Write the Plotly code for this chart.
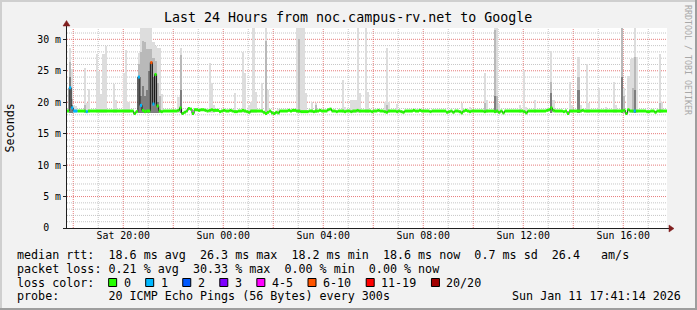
import plotly.graph_objects as go
from datetime import datetime, timedelta

# ---------------- data ----------------
start_time = "2026-01-10 17:45:00"
step_seconds = 300

# median RTT per 5-minute step (ms), 24 steps = 2 hours per row
median_ms = [
    18.6, 22.3, 19.1, 18.6, 18.6, 18.6, 18.6, 18.6, 18.6, 18.5, 18.6, 18.6, 18.6, 18.6, 18.6, 18.6, 18.6, 18.6, 18.6, 18.6, 18.6, 18.6, 18.6, 18.6,
    18.6, 18.6, 18.6, 18.6, 18.6, 18.6, 18.6, 18.6, 18.2, 18.5, 24.0, 19.5, 18.7, 18.5, 18.6, 18.6, 26.3, 19.7, 24.4, 19.4, 18.6, 18.5, 18.6, 18.6,
    18.6, 18.6, 18.6, 18.6, 18.6, 18.7, 19.1, 18.2, 18.4, 18.6, 19.0, 18.9, 18.2, 18.8, 18.8, 18.7, 18.8, 18.8, 18.7, 18.6, 18.7, 18.8, 18.7, 18.7,
    18.7, 18.5, 18.6, 18.7, 18.6, 18.6, 18.7, 18.6, 18.5, 18.5, 18.6, 18.6, 18.7, 18.6, 18.5, 18.4, 18.6, 18.6, 18.6, 18.6, 18.6, 18.6, 18.4, 18.2,
    18.4, 18.6, 18.3, 18.2, 18.4, 18.3, 18.6, 18.6, 18.6, 18.6, 18.7, 18.6, 18.7, 18.7, 18.6, 18.6, 18.5, 18.5, 18.5, 18.5, 18.6, 18.6, 18.5, 18.6,
    18.6, 18.7, 18.6, 18.6, 18.6, 18.8, 18.9, 18.6, 18.6, 18.5, 18.6, 18.6, 18.6, 18.5, 18.6, 18.6, 18.5, 18.6, 18.6, 18.7, 18.6, 18.6, 18.6, 18.6,
    18.6, 18.6, 18.5, 18.6, 18.6, 18.7, 18.6, 18.6, 18.5, 18.4, 18.6, 18.6, 18.6, 18.6, 18.5, 18.6, 18.5, 18.4, 18.6, 18.6, 18.6, 18.6, 18.7, 18.6,
    18.6, 18.7, 18.6, 18.6, 18.6, 18.6, 18.5, 18.6, 18.6, 18.6, 18.6, 18.6, 18.6, 18.6, 18.4, 18.5, 18.6, 18.4, 18.6, 18.6, 18.5, 18.3, 18.6, 18.7,
    18.6, 18.5, 18.6, 18.6, 18.6, 18.6, 18.6, 18.6, 18.5, 18.6, 18.6, 18.6, 18.6, 18.5, 18.6, 18.4, 18.6, 18.3, 18.6, 18.6, 18.6, 18.6, 18.6, 18.6,
    18.6, 18.6, 18.6, 18.5, 18.3, 18.6, 18.6, 18.6, 18.6, 18.6, 18.6, 18.6, 18.6, 18.6, 18.7, 18.8, 19.1, 18.7, 18.6, 18.6, 18.6, 18.6, 18.5, 18.6,
    18.2, 18.6, 18.6, 18.6, 18.6, 18.6, 18.6, 18.7, 18.6, 18.6, 18.6, 18.6, 18.6, 18.6, 18.6, 18.6, 18.6, 18.6, 18.6, 18.6, 18.6, 18.6, 18.6, 18.6,
    18.6, 18.6, 18.6, 18.7, 18.2, 18.8, 18.6, 18.6, 18.6, 18.6, 18.6, 18.6, 18.6, 18.6, 18.5, 18.5, 18.6, 18.6, 18.4, 18.6, 18.6, 18.6, 18.6, 18.6,
]

# steps with packet loss (index of step, number of lost pings out of 20)
loss_steps = [1, 2, 3, 4, 9, 34, 35, 40, 41, 272]
loss_counts = [1, 1, 1, 1, 1, 1, 1, 7, 1, 1]

# smoke (ping spread) at steps where it rises above the median band
smoke_floor_ms = 18.3
smoke_steps = [1, 2, 3, 4, 8, 9, 10, 14, 15, 16, 17, 18, 22, 23, 27, 28, 29,
               34, 35, 36, 37, 38, 39, 40, 41, 42, 43, 44, 45, 53, 54, 68, 69, 70,
               80, 84, 85, 87, 88, 89, 90, 93, 95, 96, 101, 110, 111, 112, 113, 114,
               117, 119, 132, 133, 136, 137, 138, 139, 140, 143, 144, 152, 153, 154, 158,
               189, 193, 200, 201, 205, 206, 207, 217, 219, 220, 224, 232, 233, 241, 242,
               245, 246, 249, 250, 255, 258, 262, 263, 266, 267, 269, 270, 271, 272, 273,
               284, 285]
smoke_max = [28.6, 25.3, 19.6, 19.4, 25.4, 19.8, 22.1, 27.6, 25.0, 21.3, 27.6, 29.0, 22.9, 20.3, 24.7, 28.3, 20.0,
             27.9, 31.8, 31.8, 31.8, 31.8, 31.8, 31.8, 29.5, 29.0, 28.7, 28.7, 21.3, 20.8, 28.7, 26.2, 23.0, 19.5,
             21.5, 28.0, 24.6, 19.5, 20.0, 31.8, 21.7, 23.1, 31.8, 21.9, 19.0, 31.8, 31.8, 31.8, 31.8, 21.4,
             20.0, 19.8, 23.5, 19.3, 20.3, 20.3, 20.3, 31.8, 21.5, 31.8, 21.6, 20.0, 28.7, 20.0, 19.7,
             19.8, 19.3, 24.7, 20.3, 31.8, 31.8, 19.7, 19.5, 25.2, 19.3, 20.3, 28.2, 20.3, 23.2, 19.5,
             27.2, 19.6, 26.1, 19.9, 22.3, 19.2, 23.2, 19.6, 31.8, 22.3, 24.2, 26.8, 27.0, 31.8, 27.2,
             27.6, 20.0]
smoke_mid = [26.4, 20.5, None, None, 19.5, None, None, None, None, None, None, None, None, None, None, None, None,
             26.0, 28.0, 29.7, 29.5, 28.5, 28.4, 28.4, 27.0, 26.5, 23.0, 21.0, None, None, 27.5, None, None, None,
             None, None, None, None, None, None, None, None, 29.8, None, None, None, 30.0, None, None, None,
             None, 19.5, None, None, None, None, None, None, None, None, None, None, 19.5, None, None,
             None, None, 19.8, None, 31.5, 21.0, None, None, None, None, None, 23.2, None, None, None,
             24.0, None, None, None, None, None, None, None, 31.8, 21.0, None, None, 22.2, 27.2, None,
             19.8, None]
smoke_dark = [24.0, 19.5, None, None, None, None, None, None, None, None, None, None, None, None, None, None, None,
              24.0, 21.0, 22.5, 21.0, 22.0, 25.0, 26.3, 24.0, 24.4, 20.0, None, None, None, 22.0, None, None, None,
              None, None, None, None, None, None, None, None, None, None, None, None, None, None, None, None,
              None, None, None, None, None, None, None, None, None, None, None, None, None, None, None,
              None, None, None, None, 21.0, None, None, None, None, None, None, 21.4, None, None, None,
              22.0, None, None, None, None, None, None, None, 24.0, None, None, None, None, 22.0, None,
              None, None]

x_tick_times = ["2026-01-10 20:00", "2026-01-11 00:00", "2026-01-11 04:00",
                "2026-01-11 08:00", "2026-01-11 12:00", "2026-01-11 16:00"]
x_tick_labels = ["Sat 20:00", "Sun 00:00", "Sun 04:00", "Sun 08:00", "Sun 12:00", "Sun 16:00"]
y_tick_values = [0, 5, 10, 15, 20, 25, 30]
y_tick_labels = ["0  ", "5 m", "10 m", "15 m", "20 m", "25 m", "30 m"]
grid_first_hour = "2026-01-10 18:00"   # first vertical grid line (major every 2 h, minor every 1 h)

loss_labels = ["0", "1", "2", "3", "4-5", "6-10", "11-19", "20/20"]
loss_limits = [0, 1, 2, 3, 5, 10, 19, 20]
loss_colors = ["#26ff00", "#00b8ff", "#0059ff", "#7e00ff", "#ff00ff", "#ff5500", "#ff0000", "#a10000"]

title_text = "Last 24 Hours from noc.campus-rv.net to Google"
line_rtt = "median rtt:  18.6 ms avg  26.3 ms max  18.2 ms min  18.6 ms now  0.7 ms sd  26.4   am/s"
line_loss = "packet loss: 0.21 % avg  30.33 % max  0.00 % min  0.00 % now"
line_color = "loss color:"
line_probe = "probe:       20 ICMP Echo Pings (56 Bytes) every 300s"
line_date = "Sun Jan 11 17:41:14 2026"
watermark = "RRDTOOL / TOBI OETIKER"

# ---------------- build ----------------
MONO = "DejaVu Sans Mono"
W, H = 697, 310
PL, PR, PT, PB = 67, 667, 28, 228
Y_MAX = 31.8


def px(x):
    return (x - PL) / (PR - PL)


def py(y):
    return (PB - y) / (PB - PT)


def nb(s):
    return s.replace(" ", "\u00a0")


t0 = datetime.fromisoformat(start_time)
n = len(median_ms)
edges = [t0 + timedelta(seconds=step_seconds * i) for i in range(n + 1)]
centers = [t0 + timedelta(seconds=step_seconds * (i + 0.5)) for i in range(n)]

loss_map = dict(zip(loss_steps, loss_counts))


def bucket(c):
    for i, lim in enumerate(loss_limits):
        if c <= lim:
            return i
    return len(loss_limits) - 1


step_bucket = [bucket(loss_map.get(k, 0)) for k in range(n)]

fig = go.Figure()

# smoke layers
for vals, col in [(smoke_max, "#dddddd"), (smoke_mid, "#b9b9b9"), (smoke_dark, "#7e7e7e")]:
    xs, bs, hs = [], [], []
    for k, v in zip(smoke_steps, vals):
        if v is None:
            continue
        xs.append(centers[k])
        bs.append(smoke_floor_ms)
        hs.append(v - smoke_floor_ms)
    fig.add_trace(go.Bar(x=xs, y=hs, base=bs, width=step_seconds * 1000,
                         marker=dict(color=col, line=dict(width=0)),
                         hoverinfo="skip", showlegend=False))

# thin black median line (visible at the step transitions)
fig.add_trace(go.Scatter(x=edges, y=median_ms + [median_ms[-1]], mode="lines",
                         line=dict(shape="hv", color="#1a1a1a", width=1),
                         hoverinfo="skip", showlegend=False))

# coloured median band by loss
for bi, col in enumerate(loss_colors):
    xs, ys = [], []
    k = 0
    while k < n:
        if step_bucket[k] != bi:
            k += 1
            continue
        j = k
        while j + 1 < n and step_bucket[j + 1] == bi and median_ms[j + 1] == median_ms[k]:
            j += 1
        xs += [edges[k], edges[j + 1], None]
        ys += [median_ms[k], median_ms[k], None]
        k = j + 1
    if xs:
        fig.add_trace(go.Scatter(x=xs, y=ys, mode="lines",
                                 line=dict(color=col, width=3),
                                 hoverinfo="skip", showlegend=False))

major_grid = "rgba(222,79,79,0.75)"
minor_grid = "rgba(160,160,160,0.6)"

fig.update_layout(
    width=W, height=H, autosize=False,
    margin=dict(l=PL, r=W - PR, t=PT, b=H - PB, pad=0),
    paper_bgcolor="#f2f2f2", plot_bgcolor="#ffffff",
    barmode="overlay", bargap=0, showlegend=False,
    font=dict(family=MONO, size=11.7, color="#000000"),
    xaxis=dict(type="date", range=[edges[0], edges[-1]],
               tickmode="array", tickvals=x_tick_times, ticktext=x_tick_labels,
               tickfont=dict(size=9.9), ticks="", showgrid=False,
               showline=False, zeroline=False, fixedrange=True),
    yaxis=dict(range=[0, Y_MAX], tickmode="array", tickvals=y_tick_values,
               ticktext=[nb(s) for s in y_tick_labels],
               tickfont=dict(size=9.9), ticks="outside", ticklen=3, tickcolor="#1f1f1f",
               showgrid=False, showline=False, zeroline=False, fixedrange=True),
)

shapes = []
# grid (dotted): vertical hourly lines, horizontal every 1 ms
g0 = datetime.fromisoformat(grid_first_hour)
h = 0
while g0 + timedelta(hours=h) < edges[-1]:
    col = major_grid if h % 2 == 0 else minor_grid
    shapes.append(dict(type="line", xref="x", yref="paper", x0=g0 + timedelta(hours=h),
                       x1=g0 + timedelta(hours=h), y0=0, y1=1, layer="below",
                       line=dict(color=col, width=1, dash="1px,1px")))
    h += 1
for v in range(1, int(Y_MAX) + 1):
    col = major_grid if v % 5 == 0 else minor_grid
    shapes.append(dict(type="line", xref="paper", yref="y", x0=0, x1=1, y0=v, y1=v, layer="below",
                       line=dict(color=col, width=1, dash="1px,1px")))

# 3D frame
shapes.append(dict(type="rect", xref="paper", yref="paper", x0=px(0), x1=px(W), y0=py(0), y1=py(2),
                   fillcolor="#cfcfcf", line=dict(width=0), layer="below"))
shapes.append(dict(type="rect", xref="paper", yref="paper", x0=px(0), x1=px(2), y0=py(0), y1=py(H),
                   fillcolor="#cfcfcf", line=dict(width=0), layer="below"))
shapes.append(dict(type="rect", xref="paper", yref="paper", x0=px(0), x1=px(W), y0=py(H - 2), y1=py(H),
                   fillcolor="#9e9e9e", line=dict(width=0), layer="below"))
shapes.append(dict(type="rect", xref="paper", yref="paper", x0=px(W - 2), x1=px(W), y0=py(0), y1=py(H),
                   fillcolor="#9e9e9e", line=dict(width=0), layer="below"))
# axes with arrows
shapes.append(dict(type="line", xref="paper", yref="paper", x0=px(66.5), x1=px(66.5), y0=py(228.5), y1=py(25),
                   line=dict(color="#1f1f1f", width=1)))
shapes.append(dict(type="line", xref="paper", yref="paper", x0=px(63), x1=px(670), y0=py(228.5), y1=py(228.5),
                   line=dict(color="#1f1f1f", width=1)))
shapes.append(dict(type="path", xref="paper", yref="paper",
                   path="M %f,%f L %f,%f L %f,%f Z" % (px(66.5), py(20.5), px(63), py(26), px(70), py(26)),
                   fillcolor="#801f1f", line=dict(color="#801f1f", width=0.5)))
shapes.append(dict(type="path", xref="paper", yref="paper",
                   path="M %f,%f L %f,%f L %f,%f Z" % (px(674), py(228.5), px(669), py(225), px(669), py(232)),
                   fillcolor="#801f1f", line=dict(color="#801f1f", width=0.5)))

annotations = []


def text(x, y, s, size=11.7, xanchor="left", color="#000000", angle=0):
    annotations.append(dict(x=px(x), y=py(y), xref="paper", yref="paper", text=nb(s), showarrow=False,
                            xanchor=xanchor, yanchor="middle", textangle=angle, borderpad=0,
                            font=dict(family=MONO, size=size, color=color)))


cw = 7.05
text(347.5, 18, title_text, size=13.3, xanchor="center")
text(9.5, 128, "Seconds", xanchor="center", angle=-90)
text(688, 60, watermark, size=8.3, xanchor="center", color="#a8a8a8", angle=90)
text(16, 255, line_rtt)
text(16, 268.5, line_loss)
text(16, 282.5, line_color)
text(16, 296, line_probe)
text(681.5, 296, line_date, xanchor="right")

bx = 16 + 13 * cw + 0.5
for lab, col in zip(loss_labels, loss_colors):
    shapes.append(dict(type="rect", xref="paper", yref="paper", x0=px(bx + 0.5), x1=px(bx + 8.5),
                       y0=py(278.5), y1=py(286.5), fillcolor=col, line=dict(color="#000000", width=1)))
    text(bx + 14.5, 282.5, lab)
    bx += 30 + cw * len(lab)

fig.update_layout(shapes=shapes, annotations=annotations)
fig.write_html("out.html")
